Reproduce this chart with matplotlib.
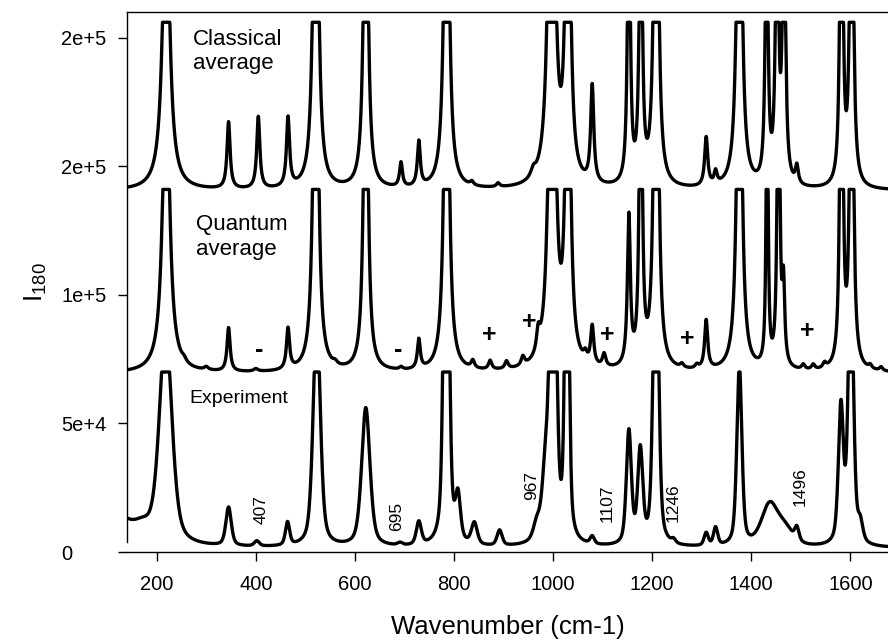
import numpy as np
import matplotlib.pyplot as plt

plt.rcParams['font.family'] = ['Liberation Sans', 'DejaVu Sans']

# ---- data: peak centre (cm-1), height above base, half width ----
classical_base = 140500
classical_clip = 206000
classical_pos = [219, 345, 405, 465, 521, 622, 693, 729, 785, 836, 889, 960,
                 997, 1030, 1079, 1153, 1177, 1208, 1309, 1328, 1376,
                 1431, 1452, 1466, 1492, 1582, 1602.5]
classical_amp = [123000, 26000, 28000, 27000, 200000, 170000, 9500, 17500, 190000, 1500, 1500, 3000,
                 230000, 170000, 38000, 131000, 150000, 238000, 19000, 5000, 190000,
                 130000, 140000, 140000, 7000, 233000, 226000]
classical_hw = [8, 3.7, 3.7, 3.7, 5, 4.5, 3.5, 3.5, 5, 4, 4, 6,
                6, 5, 3.7, 3, 3, 4, 3.7, 3.5, 5,
                2.8, 3, 3, 3.5, 2.5, 3]

quantum_base = 69500
quantum_clip = 141000
quantum_pos = [219, 255, 300, 345, 400, 465, 521, 560, 622, 693, 729, 785,
               838, 873, 906, 939, 970, 998, 1030, 1065, 1079, 1103,
               1153, 1177, 1208, 1260, 1290, 1309, 1376, 1432, 1455, 1465,
               1505, 1525, 1548, 1582, 1602.5, 1640, 1662]
quantum_amp = [123000, 1200, 1200, 17000, 1000, 16000, 200000, 1200, 170000, 1000, 11500, 190000,
               3000, 3500, 3000, 3500, 8000, 230000, 170000, 3000, 15000, 5000,
               58000, 163000, 260000, 1500, 1500, 19000, 190000, 143000, 174000, 30000,
               2000, 2000, 2000, 254000, 247000, 1500, 1500]
quantum_hw = [8, 5, 5, 3.7, 5, 3.7, 5, 5, 4.5, 4, 3.5, 5,
              4, 4, 4, 4, 4, 6, 5, 4, 3.7, 4,
              3.5, 3, 4, 4, 4, 3.7, 5, 2, 2.5, 3,
              4, 4, 4, 2.5, 3, 4, 4]

exp_base = 1500
exp_clip = 70000
exp_pos = [110, 172, 218, 345, 402, 464, 523, 622, 691, 729, 784.5, 808, 841,
           892, 967, 985, 1000, 1028, 1079, 1153, 1176, 1207.5, 1243, 1309, 1328,
           1376, 1437, 1468, 1492, 1581, 1601, 1620]
exp_amp = [13000, 4000, 84000, 15000, 2000, 9000, 90000, 54000, 1000, 9000, 219000, 17000, 8500,
           6000, 6000, 25000, 183000, 171000, 3000, 44000, 36000, 140000, 1500, 5000, 7000,
           70000, 16000, 6000, 5000, 52700, 113000, 7000]
exp_hw = [45, 20, 15, 6.5, 6, 5, 8.5, 10, 6, 6, 5.5, 6, 7,
          6, 8, 8, 6.5, 4.5, 5, 6, 6, 6, 5, 5, 5,
          6, 20, 20, 5, 6, 6, 6]

# vertical labels on the experiment trace
ann_text = ['407', '695', '967', '1107', '1246', '1496']
ann_x = [411, 684, 957, 1110, 1243, 1498]
ann_y = [16500, 14000, 26000, 19000, 19000, 25500]

# +/- marks on the quantum trace
mark_text = ['-', '-', '+', '+', '+', '+', '+']
mark_x = [407, 688, 872, 952, 1110, 1270, 1514]
mark_y = [78600, 78600, 84400, 89500, 84400, 82900, 86000]

xs = np.linspace(140, 1680, 4000)


def spectrum(base, pos, amp, hw, clip, eta=1.0):
    # eta = Lorentzian share of a pseudo-Voigt line
    y = np.full_like(xs, float(base))
    for p, a, w in zip(pos, amp, hw):
        u = (xs - p) / w
        y += a * (eta / (1 + u**2) + (1 - eta) * np.exp(-np.log(2) * u**2))
    return np.minimum(y, clip)


fig = plt.figure(figsize=(8.88, 6.4), dpi=100)
ax = fig.add_axes([127 / 888, 88 / 640, 761 / 888, 540 / 640])

ax.plot(xs, spectrum(classical_base, classical_pos, classical_amp, classical_hw, classical_clip),
        color='black', lw=2.4)
ax.plot(xs, spectrum(quantum_base, quantum_pos, quantum_amp, quantum_hw, quantum_clip),
        color='black', lw=2.4)
ax.plot(xs, spectrum(exp_base, exp_pos, exp_amp, exp_hw, exp_clip, eta=0.5),
        color='black', lw=2.4)

ax.set_xlim(140, 1676)
ax.set_ylim(0, 210000)

ax.set_xticks([200, 400, 600, 800, 1000, 1200, 1400, 1600])
ax.set_yticks([0, 50000, 100000, 150000, 200000])
ax.set_yticklabels(['0', '5e+4', '1e+5', '2e+5', '2e+5'])
ax.tick_params(direction='out', length=6.5, width=1, labelsize=14.5, colors='black')
ax.tick_params(axis='y', pad=41)
ax.tick_params(axis='x', pad=10)
for lbl in ax.get_yticklabels():
    lbl.set_horizontalalignment('left')

ax.spines['right'].set_visible(False)
ax.spines['left'].set_bounds(3900, 210000)
for s in ['left', 'top', 'bottom']:
    ax.spines[s].set_linewidth(1)

ax.set_xlabel('Wavenumber (cm-1)', fontsize=18.5, labelpad=15)
ax.set_ylabel(r'$\mathregular{I_{180}}$', fontsize=19, labelpad=9)

ax.text(273, 194500, 'Classical\naverage', fontsize=16,
        va='center', ha='left', linespacing=1.2)
ax.text(279, 122500, 'Quantum\naverage', fontsize=16, va='center', ha='left',
        linespacing=1.25)
ax.text(265, 59800, 'Experiment', fontsize=14, va='center', ha='left')

for t, x, y in zip(ann_text, ann_x, ann_y):
    ax.text(x, y, t, rotation=90, fontsize=12.5, ha='center', va='center')

for t, x, y in zip(mark_text, mark_x, mark_y):
    ax.text(x, y, t, fontsize=18, fontweight='bold', ha='center', va='center')

fig.savefig('out.png', dpi=100)
